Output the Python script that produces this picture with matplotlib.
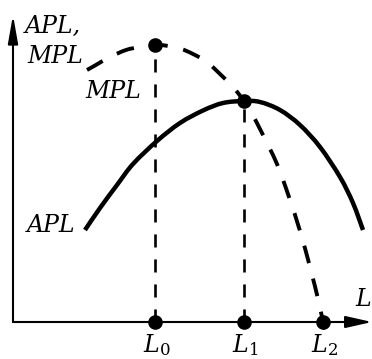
import matplotlib
matplotlib.use("Agg")
import matplotlib.pyplot as plt
import numpy as np
from matplotlib.patches import FancyArrowPatch, PathPatch
from matplotlib.path import Path

# ---- data ----
apl_L = [7.2, 8.7, 10.4, 12.0, 14.4, 16.7, 19.0, 21.0, 23.1, 24.7, 26.7, 28.7, 30.7, 32.7, 34.0, 35.0]
apl_y = [9.2, 11.4, 13.7, 15.8, 18.1, 19.9, 21.15, 21.9, 22.1, 22.0, 21.2, 19.7, 17.5, 14.5, 11.9, 9.2]

mpl_L = [7.4, 8.2, 9.7, 11.3, 12.7, 14.2, 15.2, 16.7, 18.0, 19.4, 20.8, 22.0, 23.1,
         23.9, 24.8, 26.4, 27.6, 28.7, 29.7, 30.6, 31.0, 31.4]
mpl_y = [25.2, 25.65, 26.5, 27.2, 27.5, 27.7, 27.65, 27.35, 26.8, 26.0, 24.7, 23.5, 22.1,
         20.8, 19.1, 15.8, 12.5, 9.1, 5.5, 1.9, 0.0, -1.5]

L_points = [14.2, 23.1, 31.0]          # L0, L1, L2
L_labels = [r"$L_0$", r"$L_1$", r"$L_2$"]
mpl_max = 27.7                          # MPL at L0
apl_max = 22.1                          # APL = MPL at L1

plt.rcParams['lines.scale_dashes'] = False
plt.rcParams['mathtext.fontset'] = 'dejavuserif'


def smooth_path(xs, ys):
    """Catmull-Rom curve through the given points, as cubic Bezier segments."""
    p = np.column_stack([xs, ys]).astype(float)
    ext = np.vstack([p[0], p, p[-1]])
    verts = [p[0]]
    codes = [Path.MOVETO]
    for i in range(len(p) - 1):
        p0, p1, p2, p3 = ext[i], ext[i + 1], ext[i + 2], ext[i + 3]
        verts += [p1 + (p2 - p0) / 6.0, p2 - (p3 - p1) / 6.0, p2]
        codes += [Path.CURVE4] * 3
    return Path(verts, codes)


fig = plt.figure(figsize=(3.72, 3.59), dpi=100)
ax = fig.add_axes([0, 0, 1, 1])
ax.set_xlim(-1.3, 35.9)
ax.set_ylim(-3.7, 32.2)
ax.axis('off')

# axes with arrows
ax.add_patch(FancyArrowPatch((0, 0), (35.9, 0), arrowstyle='-|>,head_length=1.6,head_width=0.36',
                             mutation_scale=10, lw=1.5, color='black', shrinkA=0, shrinkB=0))
ax.add_patch(FancyArrowPatch((0, 0), (0, 30.7), arrowstyle='-|>,head_length=1.7,head_width=0.3',
                             mutation_scale=10, lw=1.5, color='black', shrinkA=0, shrinkB=0))

# vertical dashed guides
ax.plot([L_points[0], L_points[0]], [0, mpl_max], color='black', lw=1.9, dashes=(9.4, 8.6))
ax.plot([L_points[1], L_points[1]], [0, apl_max], color='black', lw=1.9, dashes=(9.4, 8.6))

# curves
ax.add_patch(PathPatch(smooth_path(apl_L, apl_y), fill=False, edgecolor='black', lw=3.2,
                       capstyle='butt'))
ax.add_patch(PathPatch(smooth_path(mpl_L, mpl_y), fill=False, edgecolor='black', lw=2.8,
                       linestyle=(0, (13, 11.5)), capstyle='butt'))

# dots
ax.plot(L_points, [0, 0, 0], 'o', color='black', ms=9.5)
ax.plot([L_points[0]], [mpl_max], 'o', color='black', ms=9.5)
ax.plot([L_points[1]], [apl_max], 'o', color='black', ms=9.5)

tk = dict(family='DejaVu Serif', style='italic', fontsize=17, color='black')
ax.text(1.2, 28.9, "APL,", ha='left', va='baseline', **tk)
ax.text(1.4, 25.9, "MPL", ha='left', va='baseline', **tk)
ax.text(7.2, 22.4, "MPL", ha='left', va='baseline', **tk)
ax.text(1.4, 9.0, "APL", ha='left', va='baseline', **tk)
ax.text(34.2, 1.6, "L", ha='left', va='baseline', **tk)
for x, lab in zip(L_points, L_labels):
    ax.text(x - 1.2, -3.0, lab, ha='left', va='baseline', fontsize=17)

fig.savefig("out.png", dpi=100)
